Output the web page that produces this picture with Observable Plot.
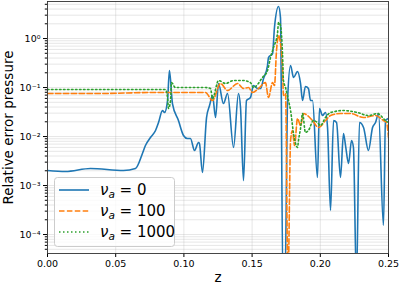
<!DOCTYPE html>
<html><head><meta charset="utf-8">
<script src="https://cdn.jsdelivr.net/npm/d3@7"></script>
<script src="https://cdn.jsdelivr.net/npm/@observablehq/plot@0.6"></script>
<style>
body{margin:0;background:#fff;}
#wrap{position:relative;width:399px;height:287px;font-family:"DejaVu Sans",sans-serif;}
#wrap svg{display:block;}
</style></head><body><div id="wrap"></div>
<script>
// ---- data ----
const seriesNames = ["0", "100", "1000"];

const blueZ = [0,0.0132,0.0315,0.0557,0.0645,0.0696,0.0718,0.0755,0.0792,0.0814,0.0843,0.0858,0.0880,0.0894,0.0916,0.0960,0.0997,0.1026,0.1048,0.1078,0.1107,0.1114,0.1136,0.1166,0.1188,0.1210,0.1232,0.1254,0.1290,0.1320,0.1364,0.1400,0.1415,0.1437,0.1459,0.1488,0.1510,0.1540,0.1562,0.1584,0.1613,0.1620,0.1650,0.1664,0.1694,0.1708,0.1726,0.1741,0.1760,0.1782,0.1804,0.1833,0.1855,0.1870,0.1891,0.1913,0.1928,0.1943,0.1979,0.1994,0.2016,0.2038,0.2053,0.2075,0.2097,0.2119,0.2148,0.2170,0.2185,0.2207,0.2229,0.2243,0.2265,0.2287,0.2317,0.2353,0.2383,0.2405,0.2427,0.2463,0.2478,0.2500];
const blueV = [0.00202,0.00193,0.00222,0.00202,0.00222,0.0045,0.00655,0.00955,0.0133,0.0193,0.0339,0.0309,0.0543,0.222,0.0471,0.0212,0.0105,0.0091,0.0091,0.00518,0.00755,0.0072,0.00184,0.0244,0.0429,0.0687,0.0244,0.121,0.0471,0.0755,0.00597,0.0755,0.0391,0.00126,0.0543,0.0625,0.110,0.0955,0.0955,0.153,0.281,0.409,0.494,1.68,4.5,2.68,0.00001,0.00001,0.0543,0.281,0.16,0.212,0.121,0.0543,0.105,0.0955,0.0543,0.0543,0.00146,0.0373,0.0268,0.0309,0.0153,0.00031,0.0212,0.0193,0.00146,0.0115,0.00655,0.00281,0.00828,0.00597,0.00001,0.0193,0.0153,0.00518,0.0153,0.0193,0.0295,0.000153,0.0212,0.0233];

const orangeZ = [0,0.0389,0.0755,0.0865,0.1158,0.1210,0.1268,0.1320,0.1393,0.1437,0.1474,0.1503,0.1547,0.1598,0.1620,0.1650,0.1664,0.1679,0.1694,0.1708,0.1723,0.1730,0.1745,0.1763,0.1782,0.1796,0.1811,0.1833,0.1855,0.1877,0.1906,0.1943,0.1987,0.2038,0.2075,0.2148,0.2221,0.2317,0.2405,0.2463,0.2485,0.2500];
const orangeV = [0.0755,0.0755,0.0791,0.0791,0.0791,0.0543,0.121,0.0869,0.121,0.0955,0.100,0.0791,0.0955,0.126,0.0625,0.126,0.110,0.569,1.15,0.79,0.256,0.0687,0.0755,0.00001,0.00828,0.0133,0.00655,0.0233,0.0168,0.0295,0.0268,0.0212,0.0153,0.0212,0.0268,0.0295,0.0295,0.0244,0.0268,0.0212,0.0193,0.00955];

const greenZ = [0,0.0865,0.0880,0.0887,0.0902,0.0909,0.0938,0.1158,0.1195,0.1210,0.1254,0.1305,0.1364,0.1437,0.1488,0.1510,0.1576,0.1613,0.1635,0.1657,0.1686,0.1694,0.1708,0.1723,0.1730,0.1745,0.1767,0.1782,0.1804,0.1833,0.1840,0.1855,0.1870,0.1891,0.1913,0.1950,0.1979,0.2001,0.2038,0.2075,0.2170,0.2273,0.2353,0.2419,0.2478,0.2500];
const greenV = [0.091,0.091,0.0625,0.0373,0.0543,0.126,0.100,0.100,0.0955,0.0597,0.139,0.121,0.139,0.139,0.126,0.100,0.160,0.222,0.409,0.655,1.26,2.12,1.84,0.494,0.139,0.100,0.0543,0.0339,0.0115,0.00597,0.00828,0.0146,0.0295,0.0121,0.0133,0.0212,0.0193,0.0168,0.0244,0.0309,0.0339,0.0309,0.0268,0.0295,0.0212,0.0193];

const xTicks = [0, 0.05, 0.10, 0.15, 0.20, 0.25];
const yMajor = [1e-4, 1e-3, 1e-2, 1e-1, 1];

// ---- styles ----
const colors = ["#1f77b4", "#ff7f0e", "#2ca02c"];
const dashes = [null, "5.5,2.4", "1.5,2.5"];

const series = [[blueZ, blueV], [orangeZ, orangeV], [greenZ, greenV]];
const tables = series.map(([zs, vs], i) => zs.map((z, j) => ({z, v: vs[j], s: seriesNames[i]})));

const yDomain = [4.1e-5, 5.7];
const yMinor = [];
for (let k = -5; k <= 0; k++) for (let m = 1; m <= 9; m++) {
  const t = +(m * Math.pow(10, k)).toPrecision(3);
  if (t >= yDomain[0] && t <= yDomain[1]) yMinor.push(t);
}
const yMinorOnly = yMinor.filter(t => !yMajor.some(M => Math.abs(M - t) / M < 1e-6));

const supMap = {"-": "\u207B", "0": "\u2070", "1": "\u00B9", "2": "\u00B2", "3": "\u00B3", "4": "\u2074", "5": "\u2075", "6": "\u2076", "7": "\u2077", "8": "\u2078", "9": "\u2079"};
const fmtY = d => "10" + String(Math.round(Math.log10(d))).split("").map(c => supMap[c]).join("");

const lineMarks = tables.map((t, i) => Plot.line(t, {
  x: "z", y: "v", stroke: colors[i], strokeWidth: 1.6, curve: "monotone-x",
  strokeDasharray: dashes[i] || undefined, clip: true, strokeLinejoin: "round"
}));

const chart = Plot.plot({
  width: 399, height: 287,
  marginLeft: 47, marginRight: 11, marginTop: 1, marginBottom: 34,
  style: {fontFamily: "DejaVu Sans, sans-serif", fontSize: "9.5px", color: "#000", background: "#fff", overflow: "visible"},
  x: {domain: [0, 0.25]},
  y: {type: "log", domain: yDomain},
  marks: [
    Plot.gridY(yMinor, {stroke: "#b0b0b0", strokeOpacity: 0.4, strokeWidth: 0.8}),
    Plot.gridX(xTicks, {stroke: "#b0b0b0", strokeOpacity: 0.4, strokeWidth: 0.8}),
    ...lineMarks,
    Plot.axisX(xTicks, {tickSize: 4, tickPadding: 3, tickFormat: d => d.toFixed(2), label: null, stroke: "#000"}),
    Plot.axisY(yMajor, {tickSize: 4, tickPadding: 3, tickFormat: fmtY, label: null, stroke: "#000"}),
    Plot.axisY(yMinorOnly, {tickSize: 2.2, tickFormat: () => "", label: null, stroke: "#000"}),
    Plot.frame({stroke: "#333", strokeWidth: 0.9}),
    Plot.text(["z"], {text: d => d, frameAnchor: "bottom", dy: 28.5, fontSize: 13.5}),
    Plot.text(["Relative error pressure"], {text: d => d, frameAnchor: "left", textAnchor: "middle", dx: -39, rotate: -90, fontSize: 13.5})
  ]
});

const wrap = document.getElementById("wrap");
wrap.appendChild(chart);

// ---- legend overlay ----
const ns = "http://www.w3.org/2000/svg";
const leg = document.createElementNS(ns, "svg");
leg.setAttribute("width", 399); leg.setAttribute("height", 287);
leg.style.position = "absolute"; leg.style.left = "0"; leg.style.top = "0";
const box = document.createElementNS(ns, "rect");
Object.entries({x: 54.5, y: 177.5, width: 120, height: 69, rx: 3, fill: "#fff", "fill-opacity": 0.8, stroke: "#cccccc", "stroke-width": 1}).forEach(([k, v]) => box.setAttribute(k, v));
leg.appendChild(box);
seriesNames.forEach((name, i) => {
  const cy = 190 + i * 21;
  const ln = document.createElementNS(ns, "line");
  Object.entries({x1: 59, x2: 89, y1: cy, y2: cy, stroke: colors[i], "stroke-width": 1.6}).forEach(([k, v]) => ln.setAttribute(k, v));
  if (dashes[i]) ln.setAttribute("stroke-dasharray", dashes[i]);
  leg.appendChild(ln);
  const tx = document.createElementNS(ns, "text");
  tx.setAttribute("x", 100); tx.setAttribute("y", cy + 5.3);
  tx.setAttribute("font-size", 15); tx.setAttribute("font-family", "DejaVu Sans, sans-serif");
  tx.innerHTML = `<tspan font-style="italic">\u03BD</tspan><tspan font-style="italic" font-size="10.5" dy="3">a</tspan><tspan dy="-3"> = ${name}</tspan>`;
  leg.appendChild(tx);
});
wrap.appendChild(leg);
</script>
</body></html>
